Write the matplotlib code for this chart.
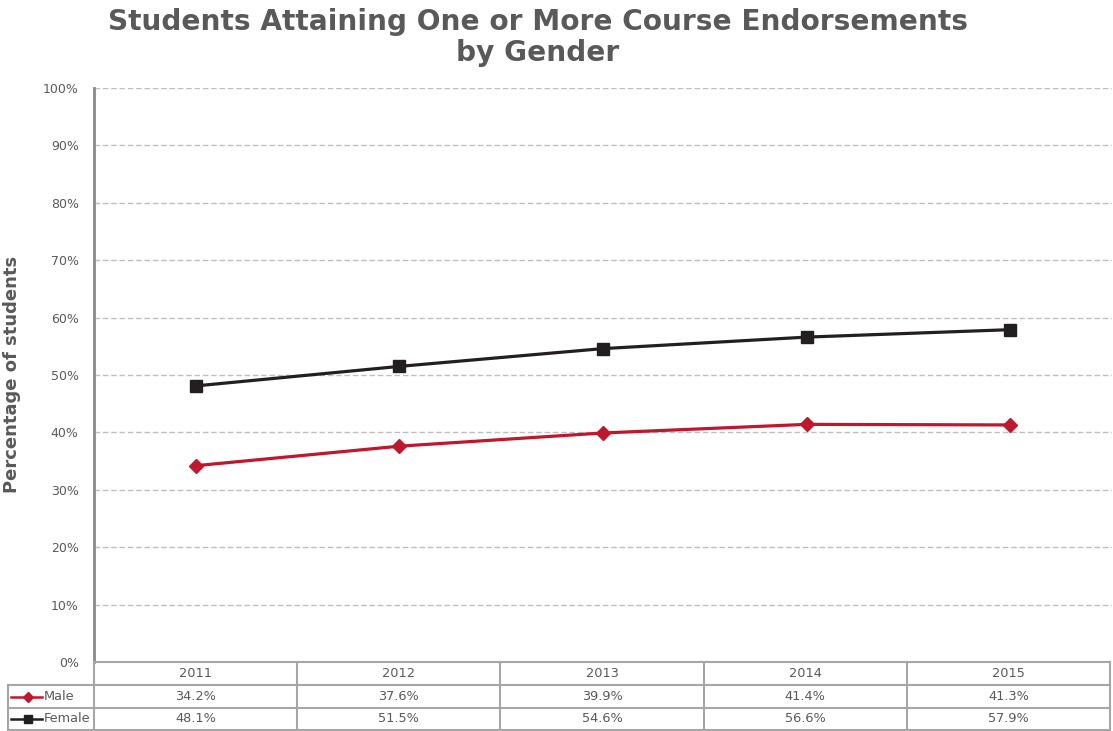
import numpy as np
import matplotlib.pyplot as plt
from matplotlib.lines import Line2D

years = ['2011', '2012', '2013', '2014', '2015']
male = [34.2, 37.6, 39.9, 41.4, 41.3]
female = [48.1, 51.5, 54.6, 56.6, 57.9]
series_names = ['Male', 'Female']
yticks = [0, 10, 20, 30, 40, 50, 60, 70, 80, 90, 100]

W, H = 1113, 731
txt = '#595959'
grid_c = '#BFBFBF'
edge_c = '#A6A6A6'
red = '#C0172C'
blk = '#231F20'

fig = plt.figure(figsize=(W / 100, H / 100), dpi=100)
ax = fig.add_axes([94 / W, 1 - 662 / H, (1112 - 94) / W, (662 - 88) / H])

x = np.arange(len(years))
ax.plot(x, female, color=blk, lw=2.3, marker='s', ms=9, zorder=3)
ax.plot(x, male, color=red, lw=2.3, marker='D', ms=7.5, zorder=3)

ax.set_xlim(-0.5, len(years) - 0.5)
ax.set_ylim(0, 100)
ax.set_yticks(yticks)
ax.set_yticklabels([f'{v}%' for v in yticks], fontsize=9, color=txt)
ax.set_xticks([])
ax.tick_params(axis='y', length=0, pad=11)
ax.grid(axis='y', color=grid_c, ls=(0, (4, 2)), lw=1)
ax.set_axisbelow(True)
for s in ['top', 'right', 'bottom']:
    ax.spines[s].set_visible(False)
ax.spines['left'].set_color('#898989')
ax.spines['left'].set_linewidth(2)

fig.text(538 / W, 1 - 37.5 / H, 'Students Attaining One or More Course Endorsements\nby Gender',
         ha='center', va='center', fontsize=20.2, fontweight='bold', color=txt, linespacing=1.18)
fig.text(12 / W, 1 - 374 / H, 'Percentage of students', rotation=90, ha='center', va='center',
         fontsize=13, fontweight='bold', color=txt)

# data table under the axes
col_left = 94
col_w = (1110 - 94) / len(years)
rows = [662, 685, 708, 730]
leg_left = 8

def fx(px):
    return px / W

def fy(py):
    return 1 - py / H

def hline(x0, x1, y):
    fig.add_artist(Line2D([fx(x0), fx(x1)], [fy(y), fy(y)], color=edge_c, lw=1.5))

def vline(xp, y0, y1):
    fig.add_artist(Line2D([fx(xp), fx(xp)], [fy(y0), fy(y1)], color=edge_c, lw=1.5))

hline(col_left, 1110, rows[0])
for r in rows[1:]:
    hline(leg_left, 1110, r)
vline(leg_left, rows[1], rows[3])
for i in range(len(years) + 1):
    vline(col_left + i * col_w, rows[0], rows[3])

fs_t = 9.3
for i, yr in enumerate(years):
    cx = col_left + (i + 0.5) * col_w
    fig.text(fx(cx), fy((rows[0] + rows[1]) / 2), yr, ha='center', va='center', fontsize=fs_t, color=txt)
    fig.text(fx(cx), fy((rows[1] + rows[2]) / 2), f'{male[i]:.1f}%', ha='center', va='center', fontsize=fs_t, color=txt)
    fig.text(fx(cx), fy((rows[2] + rows[3]) / 2), f'{female[i]:.1f}%', ha='center', va='center', fontsize=fs_t, color=txt)

for j, (name, col, mk, ms) in enumerate([(series_names[0], red, 'D', 5), (series_names[1], blk, 's', 6)]):
    yc = fy((rows[j + 1] + rows[j + 2]) / 2)
    fig.add_artist(Line2D([fx(11), fx(42)], [yc, yc], color=col, lw=1.8))
    fig.add_artist(Line2D([fx(27.5)], [yc], color=col, marker=mk, ms=ms, lw=0))
    fig.text(fx(44), yc, name, ha='left', va='center', fontsize=fs_t, color=txt)

fig.savefig('out.png', dpi=100)
